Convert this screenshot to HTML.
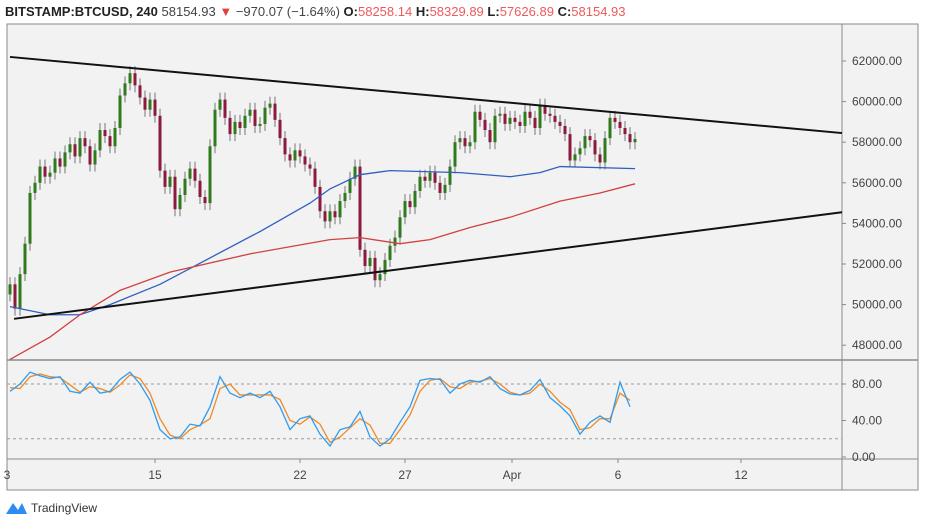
<!DOCTYPE html>
<html><head><meta charset="utf-8"><style>
html,body{margin:0;padding:0;background:#fff;width:925px;height:525px;overflow:hidden;font-family:"Liberation Sans",sans-serif}
svg text{font-family:"Liberation Sans",sans-serif}
</style></head><body>
<svg id="c" width="925" height="525" xmlns="http://www.w3.org/2000/svg">
<g font-size="13">
<text x="5" y="16" fill="#444"><tspan font-weight="bold" fill="#222">BITSTAMP:BTCUSD, 240</tspan>  58154.93 <tspan fill="#e04040">▼</tspan> −970.07 (−1.64%) <tspan font-weight="bold" fill="#222">O:</tspan><tspan fill="#ef5a5a">58258.14</tspan> <tspan font-weight="bold" fill="#222">H:</tspan><tspan fill="#ef5a5a">58329.89</tspan> <tspan font-weight="bold" fill="#222">L:</tspan><tspan fill="#ef5a5a">57626.89</tspan> <tspan font-weight="bold" fill="#222">C:</tspan><tspan fill="#ef5a5a">58154.93</tspan></text>
</g>
<rect x="7" y="24" width="911" height="466" fill="#f2f2f2" stroke="#8a8a8a" stroke-width="1"/>
<line x1="842" y1="24" x2="842" y2="490" stroke="#8a8a8a"/>
<line x1="7" y1="360" x2="918" y2="360" stroke="#8a8a8a" stroke-width="1.5"/>
<line x1="7" y1="459" x2="918" y2="459" stroke="#8a8a8a"/>
<g id="g-price"></g>
<g id="g-stoch"></g>
<g id="g-axes"></g>
<g>
<path d="M6 514 L13 503 L18 510 L22 503 L27 514 Z" fill="#2d8cf0"/>
<text x="31" y="512" font-size="12" fill="#333">TradingView</text>
</g>
</svg>
<script>
const closes=[51000,49800,51500,53000,55500,56000,56800,56300,56500,57200,56800,57500,57900,57300,58200,57800,56900,57600,58600,58300,57800,58700,60300,60900,61400,60800,60200,59600,60100,59300,56600,55800,56300,54700,55400,56200,56700,56100,55300,55000,57800,59600,60100,59200,58400,59000,58700,59300,59600,58800,58900,59700,59900,59100,58200,57400,57100,57600,57300,56900,56700,55800,54600,54100,54600,54300,55100,55500,56200,56800,52700,51900,52300,51200,51500,52200,52900,53300,54300,55100,54800,55600,56300,56100,56500,56000,55500,55900,56800,58000,58200,57800,58000,59500,59100,58600,58000,59300,59400,58900,59200,59000,58800,59500,59200,58700,59800,59400,59300,59000,58800,58400,57100,57400,57700,58300,58100,57400,57000,58200,59200,59000,58700,58400,58000,58155];
const firstOpen=50500;
const blueIdx=[0,8,14,20,30,40,50,60,64,70,76,90,100,106,110,125];
const bluePrice=[49900,49500,49500,50000,51000,52300,53600,55000,55700,56400,56600,56500,56300,56500,56800,56700];
const redIdx=[0,8,14,22,32,48,64,70,78,84,92,100,110,118,125];
const redPrice=[47300,48400,49500,50700,51600,52500,53200,53300,53000,53200,53800,54300,55100,55500,55950];
const trendUpper=[62200,58450];
const trendLower=[49300,54550];
const stochK=[72,80,93,89,86,88,72,70,82,70,72,85,93,80,62,30,20,22,36,34,55,88,70,65,70,65,72,55,30,42,45,25,12,30,33,50,22,12,20,38,55,84,86,85,70,80,84,82,88,75,69,68,73,85,65,56,45,25,38,45,38,82,55];
const stochD=[76,75,88,91,88,87,79,71,77,75,71,79,90,86,70,42,24,20,30,35,42,75,80,68,68,68,68,63,40,36,44,36,16,22,32,42,35,15,15,30,46,72,84,86,77,75,82,83,86,80,71,68,70,80,72,60,52,30,32,42,42,70,62];
const priceTicks=[62000,60000,58000,56000,54000,52000,50000,48000];
const stochTicks=["80.00","40.00","0.00"];
const stochTickVals=[80,40,0];
const dateLabels=["3","15","22","27","Apr","6","12"];
const dateIdx=[-0.6,29,58,79,100.4,121.6,146.2];

const NS="http://www.w3.org/2000/svg";
const xi=i=>10+5*i;
const yp=p=>61+(62000-p)*0.0203;
const ys=v=>457-v*0.9125;
function mk(tag,attrs,parent){const e=document.createElementNS(NS,tag);for(const k in attrs)e.setAttribute(k,attrs[k]);parent.appendChild(e);return e;}
const gp=document.getElementById('g-price'),gs=document.getElementById('g-stoch'),ga=document.getElementById('g-axes');

[80,20].forEach(v=>{const l=mk('line',{x1:7,x2:842,y1:ys(v),y2:ys(v),stroke:'#999','stroke-dasharray':'3,3'},gs);

});

closes.forEach((c,i)=>{
 const o=i===0?firstOpen:closes[i-1];
 const hi=Math.max(o,c),lo=Math.min(o,c);
 const x=xi(i);
 const w=mk('line',{x1:x,x2:x,y1:yp(hi)-7,y2:yp(lo)+7,stroke:'#777','stroke-width':1},gp);
 
 
 const b=mk('rect',{x:x-1.5,y:yp(hi),width:3,height:Math.max(1,yp(lo)-yp(hi)),fill:c>=o?'#2f7a1c':'#8c1a3e'},gp);
 
 
});
const bp=mk('polyline',{points:blueIdx.map((d,k)=>xi(d)+','+yp(bluePrice[k])).join(' '),fill:'none',stroke:'#2f5fbf','stroke-width':1.3},gp);


const rp=mk('polyline',{points:redIdx.map((d,k)=>xi(d)+','+yp(redPrice[k])).join(' '),fill:'none',stroke:'#d04040','stroke-width':1.3},gp);


const tu=mk('line',{x1:10,y1:yp(trendUpper[0]),x2:842,y2:yp(trendUpper[1]),stroke:'#111','stroke-width':2},gp);


const tl=mk('line',{x1:14,y1:yp(trendLower[0]),x2:842,y2:yp(trendLower[1]),stroke:'#111','stroke-width':2},gp);


const sd=mk('polyline',{points:stochD.map((v,k)=>xi(2*k)+','+ys(v)).join(' '),fill:'none',stroke:'#f08a24','stroke-width':1.3},gs);


const sk=mk('polyline',{points:stochK.map((v,k)=>xi(2*k)+','+ys(v)).join(' '),fill:'none',stroke:'#2f9cf0','stroke-width':1.3},gs);


priceTicks.forEach(p=>{
 mk('line',{x1:842,x2:846,y1:yp(p),y2:yp(p),stroke:'#888'},ga);
 const t=mk('text',{x:852,y:yp(p)+4,'font-size':12,fill:'#444'},ga);
 t.textContent=p.toFixed(2);
 
 
});
stochTickVals.forEach((v,k)=>{
 mk('line',{x1:842,x2:846,y1:ys(v),y2:ys(v),stroke:'#888'},ga);
 const t=mk('text',{x:852,y:ys(v)+4,'font-size':12,fill:'#444'},ga);
 t.textContent=stochTicks[k];
 
 
});
dateLabels.forEach((d,k)=>{
 const x=xi(dateIdx[k]);
 mk('line',{x1:x,x2:x,y1:459,y2:463,stroke:'#888'},ga);
 const t=mk('text',{x:x,y:479,'font-size':12,fill:'#444','text-anchor':'middle'},ga);
 t.textContent=d;
 
 
});
</script>
</body></html>
